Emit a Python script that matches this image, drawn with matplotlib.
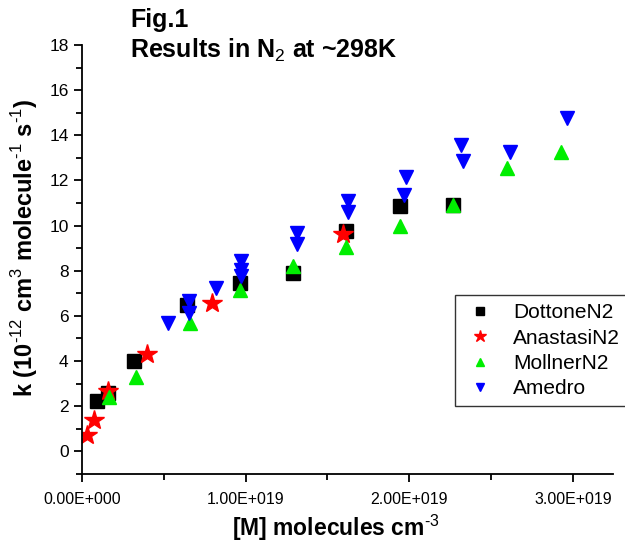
import numpy as np
import matplotlib
matplotlib.use('Agg')
import matplotlib.pyplot as plt
from matplotlib.ticker import MultipleLocator, FuncFormatter

plt.rcParams['font.family'] = ['Liberation Sans', 'DejaVu Sans']
plt.rcParams['mathtext.fontset'] = 'custom'
plt.rcParams['mathtext.rm'] = 'Liberation Sans'
plt.rcParams['mathtext.bf'] = 'Liberation Sans:bold'

# data, x in 1e19 molecules cm-3, k in 1e-12 cm3 molecule-1 s-1
dottone_x = [0.093, 0.158, 0.321, 0.643, 0.963, 1.289, 1.616, 1.942, 2.264]
dottone_k = [2.21, 2.60, 4.02, 6.47, 7.47, 7.90, 9.78, 10.85, 10.92]

anastasi_x = [0.029, 0.076, 0.158, 0.396, 0.794, 1.595]
anastasi_k = [0.70, 1.40, 2.65, 4.31, 6.58, 9.63]

mollner_x = [0.164, 0.331, 0.662, 0.963, 1.289, 1.616, 1.942, 2.264, 2.598, 2.927]
mollner_k = [2.40, 3.27, 5.69, 7.15, 8.19, 9.03, 9.96, 10.92, 12.57, 13.25]

amedro_x = [0.529, 0.653, 0.653, 0.821, 0.974, 0.974, 0.974, 1.316, 1.316,
            1.626, 1.626, 1.966, 1.977, 2.315, 2.325, 2.615, 2.963]
amedro_k = [5.67, 6.12, 6.64, 7.23, 8.44, 8.04, 7.78, 9.67, 9.19,
            11.07, 10.62, 11.36, 12.13, 13.58, 12.84, 13.26, 14.77]

scale = 1e19

fig = plt.figure(figsize=(6.25, 5.49), dpi=100)
ax = fig.add_axes([0.131, 0.137, 0.850, 0.781])

ax.plot(np.array(dottone_x) * scale, dottone_k, 's', color='black', ms=10, label='DottoneN2')
ax.plot(np.array(anastasi_x) * scale, anastasi_k, '*', color='red', ms=15, label='AnastasiN2')
ax.plot(np.array(mollner_x) * scale, mollner_k, '^', color='#00ee00', ms=10, label='MollnerN2')
ax.plot(np.array(amedro_x) * scale, amedro_k, 'v', color='blue', ms=10, label='Amedro')

ax.set_xlim(0, 3.245e19)
ax.set_ylim(-1, 18)

ax.spines['top'].set_visible(False)
ax.spines['right'].set_visible(False)
for s in ['left', 'bottom']:
    ax.spines[s].set_linewidth(1.3)

ax.xaxis.set_major_locator(MultipleLocator(1e19))
ax.xaxis.set_minor_locator(MultipleLocator(0.5e19))
ax.yaxis.set_major_locator(MultipleLocator(2))
ax.yaxis.set_minor_locator(MultipleLocator(1))


def sci(v, pos):
    if v == 0:
        return '0.00E+000'
    e = int(np.floor(np.log10(abs(v))))
    return f'{v / 10**e:.2f}E+{e:03d}'


ax.xaxis.set_major_formatter(FuncFormatter(sci))
ax.tick_params(which='major', direction='out', length=6, width=1.3)
ax.tick_params(which='minor', direction='out', length=4, width=1.3)
ax.tick_params(axis='x', pad=7, labelsize=11.5)
ax.tick_params(axis='y', labelsize=12.5)

ax.set_xlabel(r'[M] molecules cm$^{\text{-}3}$', fontsize=16.5, fontweight='bold')
ax.xaxis.set_label_coords(0.478, -0.09)
ax.set_ylabel(r'k (10$^{\text{-}12}$ cm$^{3}$ molecule$^{\text{-}1}$ s$^{\text{-}1}$)',
              fontsize=17, fontweight='bold')
ax.yaxis.set_label_coords(-0.079, 0.527)

fig.text(0.208, 0.985, 'Fig.1\nResults in N$_2$ at ~298K', fontsize=18,
         fontweight='bold', va='top', ha='left', linespacing=1.2)

leg = ax.legend(loc='upper left', bbox_to_anchor=(0.702, 0.417), fontsize=15,
                frameon=True, fancybox=False, edgecolor='black', markerscale=0.6,
                handletextpad=0.8, borderpad=0.4, labelspacing=0.3, handlelength=1.6,
                borderaxespad=0.0)
leg.get_frame().set_linewidth(1.0)

fig.savefig('out.png', dpi=100)
